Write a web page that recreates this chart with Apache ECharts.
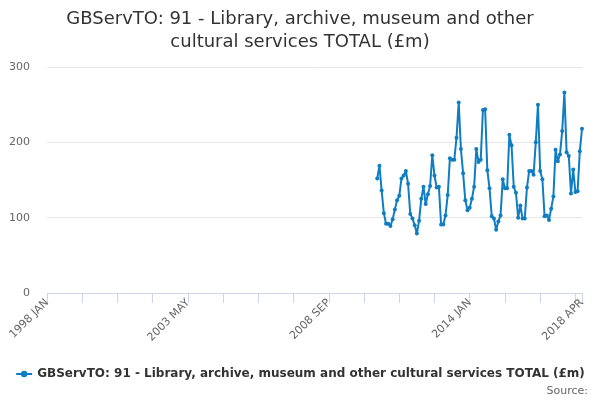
<!DOCTYPE html>
<html>
<head>
<meta charset="utf-8">
<script src="https://cdn.jsdelivr.net/npm/echarts@6/dist/echarts.min.js"></script>
<style>html,body{margin:0;padding:0;background:#fff}#c{width:600px;height:400px}</style>
</head>
<body>
<div id="c"></div>
<script>
var MONTHS = ['JAN','FEB','MAR','APR','MAY','JUN','JUL','AUG','SEP','OCT','NOV','DEC'];
var startYear = 1998, endYear = 2018, endMonth = 4;
var categories = [];
for (var y = startYear; y <= endYear; y++) {
  for (var m = 0; m < 12; m++) {
    if (y === endYear && m >= endMonth) break;
    categories.push(y + ' ' + MONTHS[m]);
  }
}
// values from 2010 JUL to 2018 APR
var firstDataLabel = '2010 JUL';
var values = [
  152,169,136,106,92,92,89,98,111,123,129,152,
  156,162,145,105,99,90,79,96,125,141,118,131,
  142,183,156,140,141,91,91,103,130,179,177,177,
  206,253,191,159,123,110,113,125,141,191,174,177,
  243,244,163,139,102,99,84,95,103,151,139,139,
  210,196,141,133,100,116,99,99,140,162,162,157,
  200,250,162,151,102,103,97,112,128,190,175,184,
  215,266,187,182,132,164,134,135,188,218
];
var seriesName = 'GBServTO: 91 - Library, archive, museum and other cultural services TOTAL (£m)';
var titleText = 'GBServTO: 91 - Library, archive, museum and other\ncultural services TOTAL (£m)';
var yTicks = [0, 100, 200, 300];

var startIdx = categories.indexOf(firstDataLabel);
var seriesData = categories.map(function (c, i) {
  var k = i - startIdx;
  return (k >= 0 && k < values.length) ? values[k] : null;
});
var lastIdx = categories.length - 1;

var chart = echarts.init(document.getElementById('c'), null, {renderer: 'canvas'});
chart.setOption({
  animation: false,
  textStyle: {fontFamily: 'DejaVu Sans'},
  title: {
    text: titleText,
    left: 'center',
    top: 3,
    textStyle: {fontSize: 18, fontWeight: 'normal', color: '#333', lineHeight: 23, fontFamily: 'DejaVu Sans'}
  },
  legend: {
    bottom: 15,
    left: 'center',
    itemWidth: 16,
    itemHeight: 8,
    itemGap: 4,
    textStyle: {fontSize: 12, fontWeight: 'bold', color: '#333', fontFamily: 'DejaVu Sans'},
    data: [seriesName]
  },
  graphic: [{
    type: 'text',
    right: 12,
    bottom: 3,
    style: {text: 'Source:', fontSize: 11, fill: '#666', fontFamily: 'DejaVu Sans'}
  }],
  grid: {left: 47, right: 18, top: 67, bottom: 107, containLabel: false},
  xAxis: {
    type: 'category',
    data: categories,
    boundaryGap: false,
    axisLine: {lineStyle: {color: '#ccd6eb'}},
    axisTick: {
      length: 10,
      lineStyle: {color: '#ccd6eb'},
      interval: function (i) { return i % 16 === 0 || i === lastIdx; }
    },
    axisLabel: {
      rotate: 45,
      color: '#666',
      fontSize: 11,
      margin: 8,
      interval: function (i) { return i % 64 === 0 || i === lastIdx; },
      showMaxLabel: true
    },
    splitLine: {show: false}
  },
  yAxis: {
    type: 'value',
    min: yTicks[0],
    max: yTicks[yTicks.length - 1],
    interval: 100,
    axisLine: {show: false},
    axisTick: {show: false},
    axisLabel: {color: '#666', fontSize: 11, margin: 17},
    splitLine: {lineStyle: {color: '#e6e6e6'}}
  },
  series: [{
    name: seriesName,
    type: 'line',
    data: seriesData,
    connectNulls: false,
    symbol: 'circle',
    symbolSize: 4,
    showSymbol: true,
    showAllSymbol: true,
    itemStyle: {color: '#0f7dc2'},
    lineStyle: {width: 2, color: '#0f7dc2'}
  }]
});
</script>
</body>
</html>
